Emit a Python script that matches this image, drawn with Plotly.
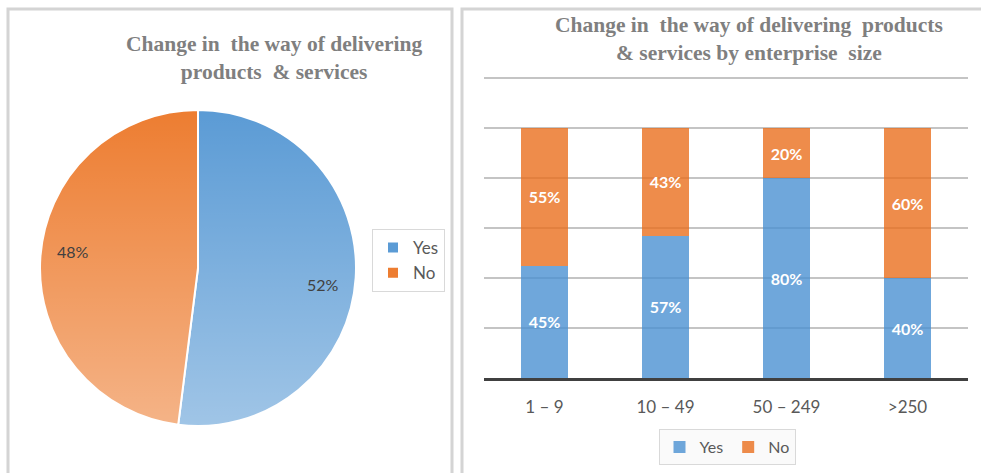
import base64
import math
import plotly.graph_objects as go

# Overall answer: did the enterprise change the way it delivers products & services?
pie_labels = ["Yes", "No"]
pie_values = [52, 48]

# Breakdown by enterprise size (number of employees)
size_classes = ["1 – 9", "10 – 49", "50 – 249", ">250"]
yes_share = [0.45, 0.57, 0.80, 0.40]
no_share = [0.55, 0.43, 0.20, 0.60]

W, H = 981, 473
BLUE_PIE, ORANGE_PIE = "#5B9BD5", "#ED7D31"
# translucent bar fills so the horizontal grid shows through
BLUE_BAR, ORANGE_BAR = "rgba(75,145,210,0.8)", "rgba(234,111,30,0.8)"
TEXT_GREY = "#595959"
TITLE_GREY = "#7F7F7F"
SANS = "Lato, 'Open Sans', sans-serif"
SERIF = "'Liberation Serif', 'Times New Roman', serif"

# pie placement (pixels)
PIE_CX, PIE_CY, PIE_R = 198, 268, 158
# bar plot area (pixels): baseline, and pixels per 100 %
BAR_BASE, BAR_SCALE = 378, 250
Y_MAX = 1.22


def px(x):
    return x / W


def py(y):
    return 1 - y / H


fig = go.Figure()

# ---- left panel: pie ----
fig.add_trace(go.Pie(
    labels=pie_labels,
    values=pie_values,
    sort=False,
    direction="clockwise",
    rotation=0,
    marker=dict(colors=[BLUE_PIE, ORANGE_PIE], line=dict(color="white", width=2)),
    textinfo="none",
    domain=dict(x=[px(PIE_CX - PIE_R), px(PIE_CX + PIE_R)],
                y=[py(PIE_CY + PIE_R), py(PIE_CY - PIE_R)]),
    legend="legend",
    hoverinfo="label+percent",
))

# ---- right panel: stacked bars ----
bar_text = dict(family=SANS, size=16, color="white", weight="bold")
fig.add_trace(go.Bar(
    name="Yes", x=size_classes, y=yes_share,
    marker=dict(color=BLUE_BAR, line=dict(width=0)),
    texttemplate="%{y:.0%}", textposition="inside", insidetextanchor="middle",
    textfont=bar_text, legend="legend2",
))
fig.add_trace(go.Bar(
    name="No", x=size_classes, y=no_share,
    marker=dict(color=ORANGE_BAR, line=dict(width=0)),
    texttemplate="%{y:.0%}", textposition="inside", insidetextanchor="middle",
    textfont=bar_text, legend="legend2",
))

# percentage labels on the pie, placed just past each slice's mid-angle
annotations = []
total = sum(pie_values)
start = 0.0
for lab, val in zip(pie_labels, pie_values):
    frac = val / total
    ang = 2 * math.pi * (start + frac / 2) + math.radians(4)
    lx = PIE_CX + 0.8 * PIE_R * math.sin(ang)
    ly = PIE_CY - 0.8 * PIE_R * math.cos(ang)
    annotations.append(dict(text=f"{round(frac * 100)}%", xref="paper", yref="paper",
                            x=px(lx), y=py(ly), xanchor="center", yanchor="middle",
                            showarrow=False,
                            font=dict(family=SANS, size=16, color="#404040")))
    start += frac

shapes = [
    # panel frames
    dict(type="rect", xref="paper", yref="paper", x0=px(8), x1=px(452), y0=-0.1, y1=py(9),
         line=dict(color="#D4D4D4", width=3), layer="below"),
    dict(type="rect", xref="paper", yref="paper", x0=px(462), x1=1.1, y0=-0.1, y1=py(9),
         line=dict(color="#D4D4D4", width=3), layer="below"),
]

# soft vertical shading on the pie (lighter towards the bottom)
svg = (
    '<svg xmlns="http://www.w3.org/2000/svg" width="200" height="200" viewBox="0 0 200 200">'
    '<defs><linearGradient id="g" x1="0" y1="0" x2="0" y2="1">'
    '<stop offset="0" stop-color="white" stop-opacity="0"/>'
    '<stop offset="1" stop-color="white" stop-opacity="0.42"/>'
    '</linearGradient></defs>'
    '<circle cx="100" cy="100" r="100" fill="url(#g)"/></svg>'
)
shade_src = "data:image/svg+xml;base64," + base64.b64encode(svg.encode()).decode()

title_font = dict(family=SERIF, size=21.5, color=TITLE_GREY, weight="bold")
annotations += [
    dict(text="Change in  the way of delivering<br>products  & services",
         xref="paper", yref="paper", x=px(274), y=py(30), xanchor="center", yanchor="top",
         showarrow=False, font=title_font, align="center"),
    dict(text="Change in  the way of delivering  products<br>& services by enterprise  size",
         xref="paper", yref="paper", x=px(749), y=py(11), xanchor="center", yanchor="top",
         showarrow=False, font=title_font, align="center"),
]

fig.update_layout(
    width=W, height=H,
    margin=dict(l=0, r=0, t=0, b=0),
    paper_bgcolor="white", plot_bgcolor="white",
    barmode="stack", bargap=0.61,
    showlegend=True,
    legend=dict(x=px(372), y=py(229), xanchor="left", yanchor="top",
                bordercolor="#D9D9D9", borderwidth=1, bgcolor="white",
                font=dict(family=SANS, size=17, color=TEXT_GREY),
                itemwidth=30),
    legend2=dict(orientation="h", x=px(727), y=py(429), xanchor="center", yanchor="top",
                 traceorder="normal",
                 bordercolor="#D9D9D9", borderwidth=1, bgcolor="#FAFAFA",
                 font=dict(family=SANS, size=16, color=TEXT_GREY),
                 itemwidth=30),
    xaxis=dict(domain=[px(484), px(968)], showline=True, linecolor="#404040", linewidth=3,
               ticks="outside", ticklen=12, tickcolor="rgba(0,0,0,0)",
               tickfont=dict(family=SANS, size=17, color=TEXT_GREY), showgrid=False),
    yaxis=dict(domain=[py(BAR_BASE), py(BAR_BASE - Y_MAX * BAR_SCALE)], range=[0, Y_MAX],
               tick0=0, dtick=0.2,
               showticklabels=False, showgrid=True, gridcolor="#C4C4C4", gridwidth=2,
               zeroline=False),
    shapes=shapes,
    annotations=annotations,
    images=[dict(source=shade_src, xref="paper", yref="paper",
                 x=px(PIE_CX - PIE_R), y=py(PIE_CY - PIE_R), sizex=px(2 * PIE_R),
                 sizey=2 * PIE_R / H,
                 xanchor="left", yanchor="top", sizing="stretch", layer="above")],
)

fig.write_html("out.html")
